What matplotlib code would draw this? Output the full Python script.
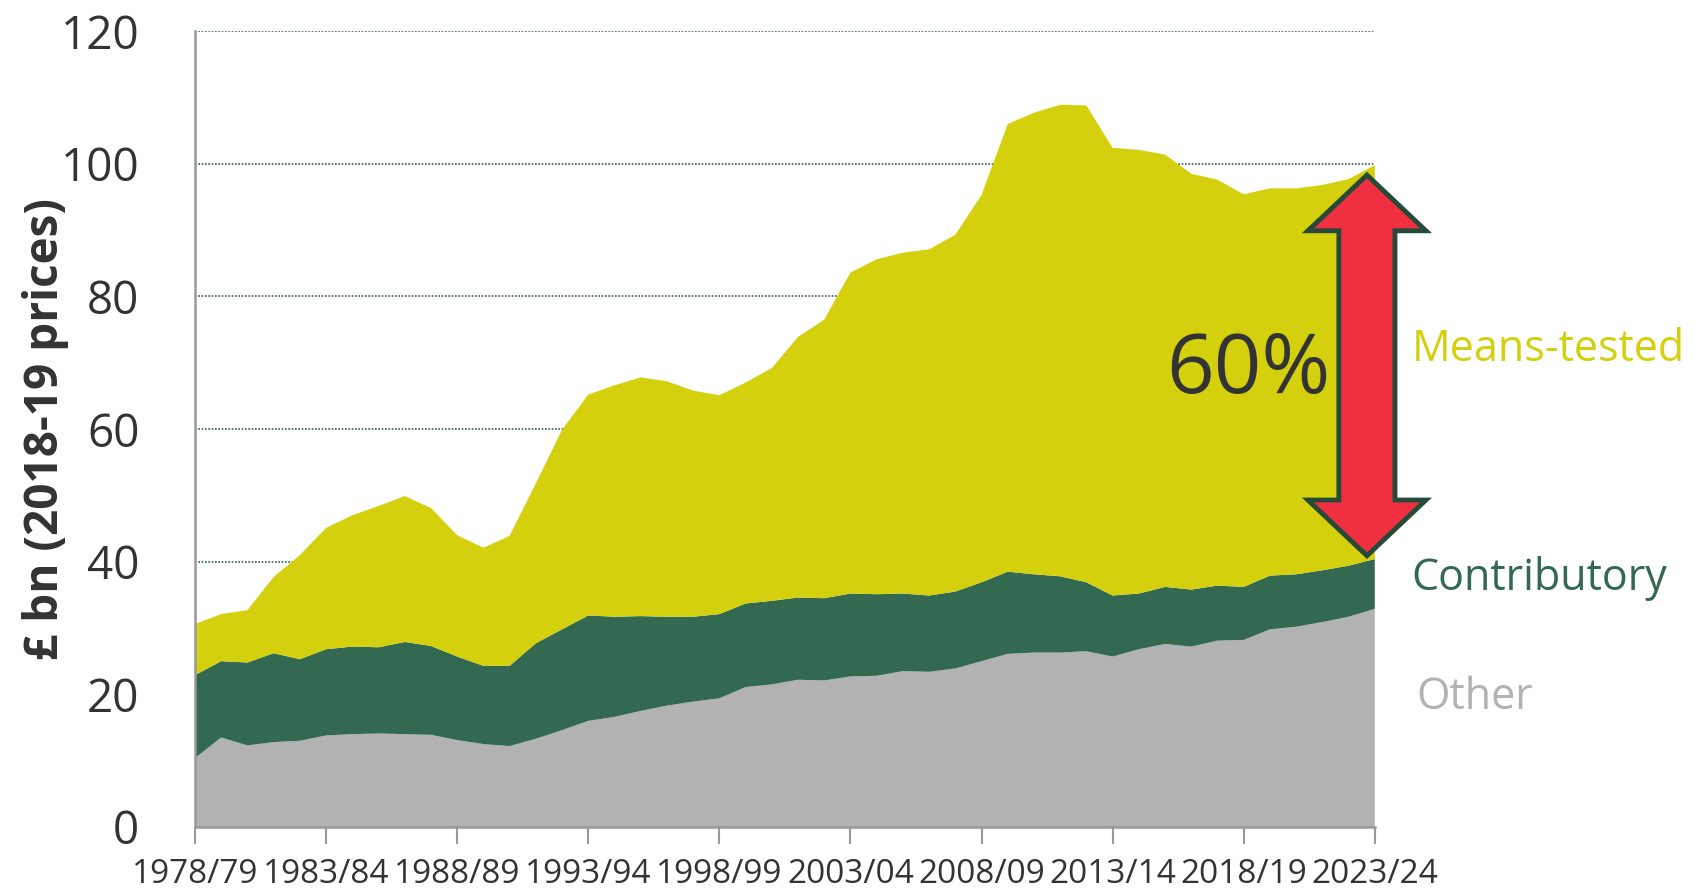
import numpy as np
import matplotlib.pyplot as plt
from matplotlib.patches import Polygon

plt.rcParams['font.family'] = ['Open Sans', 'DejaVu Sans']

# financial years 1978/79 .. 2023/24
start_year = 1978
years = [f"{y}/{(y + 1) % 100:02d}" for y in range(start_year, 2024)]

# £bn, 2018-19 prices
other = [10.4, 13.5, 12.3, 12.8, 13.0, 13.8, 14.0, 14.1, 14.0, 13.9,
         13.1, 12.5, 12.2, 13.3, 14.6, 16.0, 16.6, 17.5, 18.3, 18.9,
         19.4, 21.1, 21.5, 22.2, 22.1, 22.7, 22.8, 23.5, 23.4, 23.9,
         25.0, 26.1, 26.3, 26.3, 26.5, 25.7, 26.8, 27.6, 27.2, 28.1,
         28.2, 29.8, 30.2, 30.9, 31.7, 32.9]
contributory = [12.5, 11.5, 12.5, 13.4, 12.3, 13.0, 13.2, 13.0, 13.9, 13.4,
                12.6, 11.8, 12.1, 14.4, 15.2, 15.9, 15.1, 14.3, 13.4, 12.8,
                12.7, 12.6, 12.6, 12.4, 12.4, 12.5, 12.3, 11.7, 11.5, 11.6,
                11.9, 12.4, 11.8, 11.5, 10.4, 9.2, 8.4, 8.6, 8.6, 8.3,
                8.0, 8.1, 7.9, 7.8, 7.7, 7.5]
means_tested = [7.7, 7.1, 7.9, 11.5, 15.7, 18.3, 19.8, 21.3, 22.0, 20.8,
                18.3, 17.8, 19.6, 24.1, 30.1, 33.3, 34.9, 36.0, 35.5, 34.1,
                33.0, 33.3, 35.1, 39.3, 42.0, 48.4, 50.5, 51.4, 52.2, 53.8,
                58.4, 67.5, 69.6, 71.1, 71.9, 67.5, 66.9, 65.2, 62.7, 61.2,
                59.2, 58.4, 58.2, 58.1, 58.3, 59.4]

c_other = '#b2b2b2'
c_contrib = '#336950'
c_means = '#d4d00d'
c_text = '#333333'

x = np.arange(len(years))

fig = plt.figure(figsize=(17, 8.9), dpi=100)
ax = fig.add_axes([0.1147, 0.0708, 0.694, 0.8942])

ax.stackplot(x, other, contributory, means_tested,
             colors=[c_other, c_contrib, c_means], linewidth=0, zorder=2)

ax.set_xlim(0, len(years) - 1)
ax.set_ylim(0, 120)
ax.set_yticks(range(0, 121, 20))
ax.yaxis.grid(True, linestyle=(0, (1, 1)), color='#2f5e4c', linewidth=1.2, zorder=1)
ax.set_axisbelow(True)

ax.set_xticks(x[::5])
ax.set_xticklabels(years[::5])
ax.tick_params(axis='x', length=12, width=1.5, color='#999999', labelsize=24,
               labelcolor=c_text, pad=10)
ax.tick_params(axis='y', length=0, labelsize=33, labelcolor=c_text, pad=40)

for s in ['top', 'right']:
    ax.spines[s].set_visible(False)
for s in ['left', 'bottom']:
    ax.spines[s].set_color('#999999')
    ax.spines[s].set_linewidth(1.8)

ax.set_ylabel('£ bn (2018-19 prices)', fontsize=33, fontweight='bold',
              color=c_text, labelpad=-6)

# double-headed arrow showing the means-tested share in the last year
total_last = other[-1] + contributory[-1] + means_tested[-1]
base_last = other[-1] + contributory[-1]
cx = len(years) - 1.3
top = total_last - 1.5
bot = base_last + 0.5
hw, sw, hl = 2.25, 1.07, 8.4
arrow = Polygon([(cx, top), (cx + hw, top - hl), (cx + sw, top - hl),
                 (cx + sw, bot + hl), (cx + hw, bot + hl), (cx, bot),
                 (cx - hw, bot + hl), (cx - sw, bot + hl), (cx - sw, top - hl),
                 (cx - hw, top - hl)],
                closed=True, facecolor='#f03040', edgecolor='#264a38',
                linewidth=3.5, clip_on=False, zorder=5)
ax.add_patch(arrow)

share = means_tested[-1] / total_last
ax.text(cx - 1.4, 68.7, f"{share:.0%}", fontsize=60, color=c_text,
        ha='right', va='center', zorder=6)

ax.text(46.4, 72, 'Means-tested', fontsize=31, color=c_means, va='center', clip_on=False)
ax.text(46.4, 37.5, 'Contributory', fontsize=31, color=c_contrib, va='center', clip_on=False)
ax.text(46.6, 19.5, 'Other', fontsize=31, color=c_other, va='center', clip_on=False)

fig.savefig('out.png', dpi=100)
